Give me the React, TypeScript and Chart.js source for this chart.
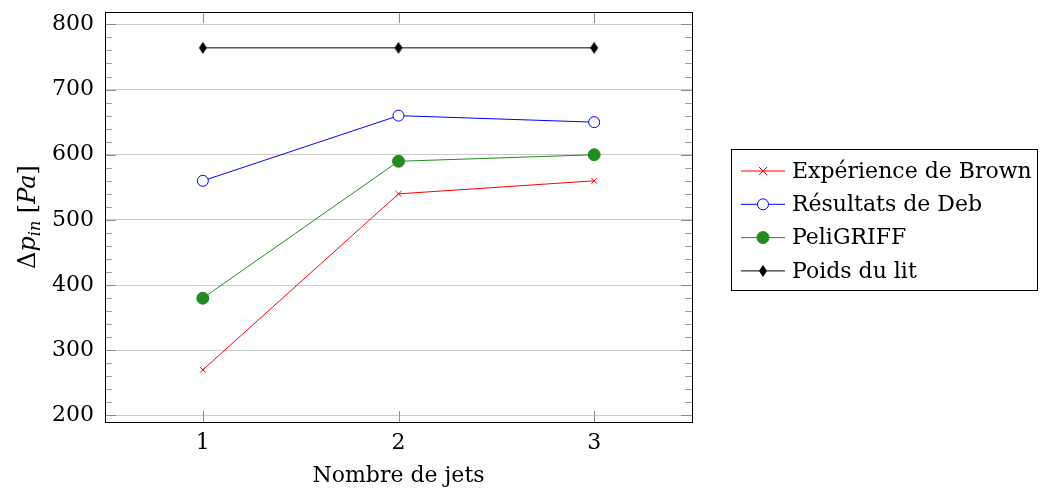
import React, { useEffect, useRef } from "react";
import { Chart, registerables } from "chart.js";

Chart.register(...registerables);

const jets = [1, 2, 3];
const brown = [270, 540, 560];
const deb = [560, 660, 650];
const peli = [380, 590, 600];
const poids = [764, 764, 764];
const yTicks = [200, 300, 400, 500, 600, 700, 800];
const xTicks = [1, 2, 3];
const seriesNames = ["Expérience de Brown", "Résultats de Deb", "PeliGRIFF", "Poids du lit"];
const xTitle = "Nombre de jets";

const FONT = "'DejaVu Serif', serif";

function diamond(): HTMLCanvasElement {
  const c = document.createElement("canvas");
  c.width = 10;
  c.height = 14;
  const g = c.getContext("2d")!;
  g.fillStyle = "#000";
  g.beginPath();
  g.moveTo(5, 1);
  g.lineTo(9, 7);
  g.lineTo(5, 13);
  g.lineTo(1, 7);
  g.closePath();
  g.fill();
  return c;
}

export default function App() {
  const ref = useRef<HTMLCanvasElement>(null);
  useEffect(() => {
    const dia = diamond();
    const mk = (vals: number[]) => vals.map((v, i) => ({ x: jets[i], y: v }));
    const styles = [
      { color: "#ff0000", pointStyle: "crossRot", radius: 4, bg: "#ff0000" },
      { color: "#0000ff", pointStyle: "circle", radius: 5.5, bg: "#ffffff" },
      { color: "#228b22", pointStyle: "circle", radius: 6, bg: "#228b22" },
      { color: "#000000", pointStyle: dia, radius: 6, bg: "#000000" },
    ];
    const allData = [brown, deb, peli, poids];

    function drawMarker(ctx: CanvasRenderingContext2D, s: any, x: number, y: number) {
      ctx.save();
      ctx.lineWidth = 1;
      ctx.strokeStyle = s.color;
      ctx.fillStyle = s.bg;
      if (s.pointStyle === "crossRot") {
        const r = s.radius;
        ctx.beginPath();
        ctx.moveTo(x - r, y - r);
        ctx.lineTo(x + r, y + r);
        ctx.moveTo(x - r, y + r);
        ctx.lineTo(x + r, y - r);
        ctx.stroke();
      } else if (s.pointStyle === "circle") {
        ctx.beginPath();
        ctx.arc(x, y, s.radius, 0, Math.PI * 2);
        ctx.fill();
        ctx.stroke();
      } else {
        ctx.drawImage(s.pointStyle, x - 5, y - 7);
      }
      ctx.restore();
    }

    const axisPlugin = {
      id: "axisDeco",
      beforeDatasetsDraw(chart: any) {
        const { ctx, chartArea: a, scales } = chart;
        const y = scales.y;
        const x = scales.x;
        ctx.save();
        ctx.lineWidth = 1;
        for (let v = 200; v <= 800; v += 20) {
          const py = Math.round(y.getPixelForValue(v)) + 0.5;
          const major = v % 100 === 0;
          const len = major ? 11 : 7;
          ctx.strokeStyle = major ? "#8c8c8c" : "#a0a0a0";
          ctx.beginPath();
          ctx.moveTo(a.left, py);
          ctx.lineTo(a.left + len, py);
          ctx.moveTo(a.right, py);
          ctx.lineTo(a.right - len, py);
          ctx.stroke();
        }
        ctx.strokeStyle = "#8c8c8c";
        for (const v of xTicks) {
          const px = Math.round(x.getPixelForValue(v)) + 0.5;
          ctx.beginPath();
          ctx.moveTo(px, a.bottom);
          ctx.lineTo(px, a.bottom - 11);
          ctx.moveTo(px, a.top);
          ctx.lineTo(px, a.top + 11);
          ctx.stroke();
        }
        ctx.restore();
      },
      afterDraw(chart: any) {
        const { ctx, chartArea: a } = chart;
        ctx.save();
        ctx.strokeStyle = "#000";
        ctx.lineWidth = 1;
        ctx.strokeRect(Math.round(a.left) + 0.5, Math.round(a.top) + 0.5, Math.round(a.right - a.left), Math.round(a.bottom - a.top));
        ctx.fillStyle = "#000";
        ctx.font = `22px ${FONT}`;
        ctx.textAlign = "center";
        ctx.textBaseline = "middle";
        ctx.fillText(xTitle, (a.left + a.right) / 2, 476);
        const parts = [
          { t: "Δ", f: `24px ${FONT}`, dy: 0 },
          { t: "p", f: `italic 24px ${FONT}`, dy: 0 },
          { t: "in", f: `italic 16px ${FONT}`, dy: 5 },
          { t: " [", f: `24px ${FONT}`, dy: 0 },
          { t: "Pa", f: `italic 24px ${FONT}`, dy: 0 },
          { t: "]", f: `24px ${FONT}`, dy: 0 },
        ];
        let total = 0;
        for (const p of parts) {
          ctx.font = p.f;
          total += ctx.measureText(p.t).width;
        }
        ctx.translate(35, (a.top + a.bottom) / 2);
        ctx.rotate(-Math.PI / 2);
        ctx.textAlign = "left";
        ctx.textBaseline = "alphabetic";
        let cx = -total / 2;
        for (const p of parts) {
          ctx.font = p.f;
          ctx.fillText(p.t, cx, p.dy);
          cx += ctx.measureText(p.t).width;
        }
        ctx.setTransform(1, 0, 0, 1, 0, 0);
        const bx = 731.5, by = 149.5, bw = 306, bh = 141;
        ctx.strokeStyle = "#000";
        ctx.lineWidth = 1;
        ctx.strokeRect(bx, by, bw, bh);
        ctx.font = `22px ${FONT}`;
        ctx.textBaseline = "middle";
        ctx.textAlign = "left";
        seriesNames.forEach((name, i) => {
          const ry = 171 + i * 33.3;
          const s = styles[i];
          ctx.strokeStyle = s.color;
          ctx.lineWidth = 1;
          ctx.beginPath();
          ctx.moveTo(741, ry);
          ctx.lineTo(785, ry);
          ctx.stroke();
          drawMarker(ctx, s, 763, ry);
          ctx.fillStyle = "#000";
          ctx.fillText(name, 792, ry + 1);
        });
        ctx.restore();
      },
    };

    const chart = new Chart(ref.current!, {
      type: "line",
      data: {
        datasets: allData.map((vals, i) => ({
          label: seriesNames[i],
          data: mk(vals),
          borderColor: styles[i].color,
          backgroundColor: styles[i].bg,
          pointBorderColor: styles[i].color,
          pointBackgroundColor: styles[i].bg,
          pointStyle: styles[i].pointStyle as any,
          pointRadius: styles[i].radius,
          pointBorderWidth: 1,
          borderWidth: 1,
          tension: 0,
          fill: false,
        })),
      },
      options: {
        animation: false,
        responsive: false,
        devicePixelRatio: 1,
        layout: { padding: { left: 0, top: 12, right: 351, bottom: 0 } },
        plugins: { legend: { display: false }, tooltip: { enabled: false } },
        scales: {
          x: {
            type: "linear",
            min: 0.5,
            max: 3.5,
            afterBuildTicks: (s: any) => {
              s.ticks = xTicks.map((v) => ({ value: v }));
            },
            afterFit: (s: any) => {
              s.height = 67;
              s.paddingLeft = 0;
              s.paddingRight = 0;
            },
            grid: { display: false, drawTicks: false },
            border: { display: false },
            ticks: {
              color: "#000",
              font: { family: FONT, size: 22 },
              padding: 8,
              maxRotation: 0,
              callback: (v: any) => String(v),
            },
          },
          y: {
            type: "linear",
            min: 190,
            max: 819,
            afterBuildTicks: (s: any) => {
              s.ticks = yTicks.map((v) => ({ value: v }));
            },
            afterFit: (s: any) => {
              s.width = 105;
              s.paddingTop = 0;
              s.paddingBottom = 0;
            },
            grid: { color: "#cccccc", lineWidth: 1, drawTicks: false },
            border: { display: false },
            ticks: {
              color: "#000",
              font: { family: FONT, size: 22 },
              padding: 11,
              callback: (v: any) => String(v),
            },
          },
        },
      },
      plugins: [axisPlugin],
    });
    return () => chart.destroy();
  }, []);

  return (
    <div style={{ position: "absolute", left: 0, top: 0, width: 1043, height: 489, background: "#fff" }}>
      <canvas ref={ref} width={1043} height={489} />
    </div>
  );
}
